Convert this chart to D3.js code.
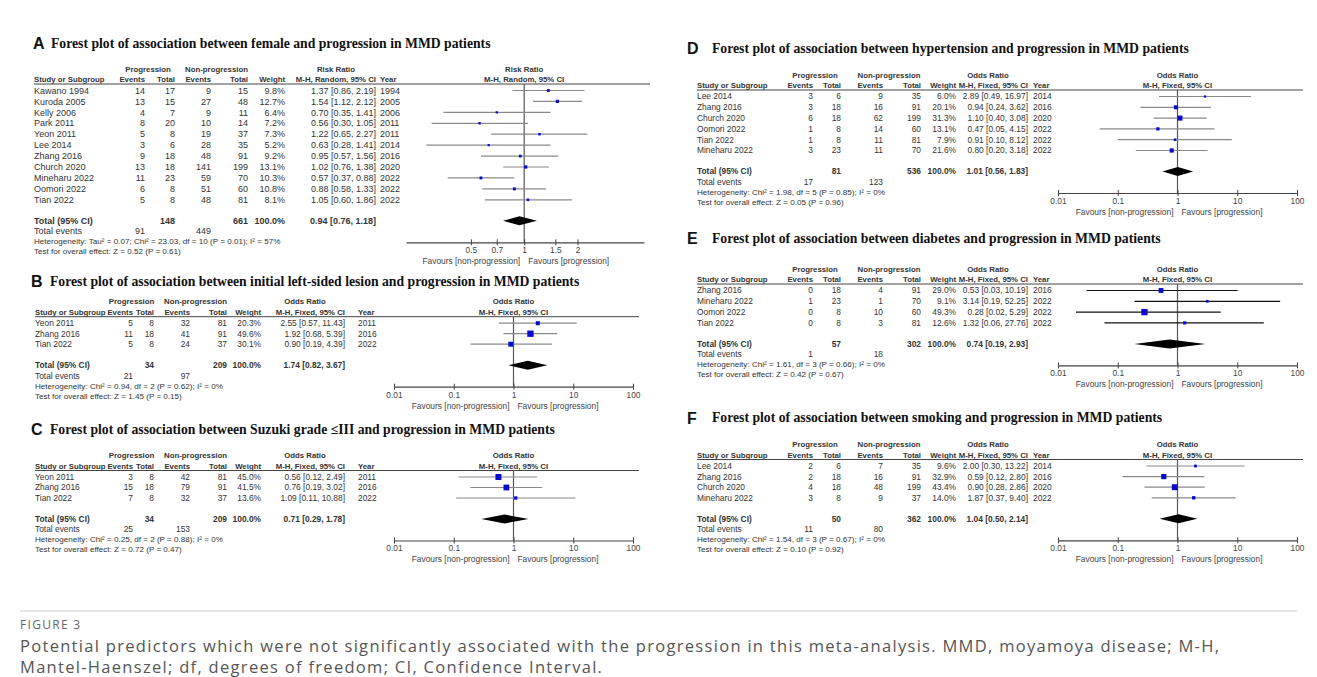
<!DOCTYPE html>
<html>
<head>
<meta charset="utf-8">
<script src="https://cdn.jsdelivr.net/npm/d3@7"></script>
<style>
  body { margin: 0; background: #fff; }
  svg { display: block; }
  text { font-family: Arial, "Liberation Sans", sans-serif; }
</style>
</head>
<body>
<svg id="chart"></svg>
<script>
// rows: study, prog events, prog total, non-prog events, non-prog total, weight %, estimate, lower, upper, year
const femaleRows = [
  ['Kawano 1994', 14, 17, 9, 15, 9.8, 1.37, 0.86, 2.19, 1994],
  ['Kuroda 2005', 13, 15, 27, 48, 12.7, 1.54, 1.12, 2.12, 2005],
  ['Kelly 2006', 4, 7, 9, 11, 6.4, 0.70, 0.35, 1.41, 2006],
  ['Park 2011', 8, 20, 10, 14, 7.2, 0.56, 0.30, 1.05, 2011],
  ['Yeon 2011', 5, 8, 19, 37, 7.3, 1.22, 0.65, 2.27, 2011],
  ['Lee 2014', 3, 6, 28, 35, 5.2, 0.63, 0.28, 1.41, 2014],
  ['Zhang 2016', 9, 18, 48, 91, 9.2, 0.95, 0.57, 1.56, 2016],
  ['Church 2020', 13, 18, 141, 199, 13.1, 1.02, 0.76, 1.38, 2020],
  ['Mineharu 2022', 11, 23, 59, 70, 10.3, 0.57, 0.37, 0.88, 2022],
  ['Oomori 2022', 6, 8, 51, 60, 10.8, 0.88, 0.58, 1.33, 2022],
  ['Tian 2022', 5, 8, 48, 81, 8.1, 1.05, 0.60, 1.86, 2022]
];
const femaleTotal = [148, 661, 0.94, 0.76, 1.18];
const femaleEvents = [91, 449];
const femaleStats = [
  'Heterogeneity: Tau² = 0.07; Chi² = 23.03, df = 10 (P = 0.01); I² = 57%',
  'Test for overall effect: Z = 0.52 (P = 0.61)'
];

const leftRows = [
  ['Yeon 2011', 5, 8, 32, 81, 20.3, 2.55, 0.57, 11.43, 2011],
  ['Zhang 2016', 11, 18, 41, 91, 49.6, 1.92, 0.68, 5.39, 2016],
  ['Tian 2022', 5, 8, 24, 37, 30.1, 0.90, 0.19, 4.39, 2022]
];
const leftTotal = [34, 209, 1.74, 0.82, 3.67];
const leftEvents = [21, 97];
const leftStats = [
  'Heterogeneity: Chi² = 0.94, df = 2 (P = 0.62); I² = 0%',
  'Test for overall effect: Z = 1.45 (P = 0.15)'
];

const suzukiRows = [
  ['Yeon 2011', 3, 8, 42, 81, 45.0, 0.56, 0.12, 2.49, 2011],
  ['Zhang 2016', 15, 18, 79, 91, 41.5, 0.76, 0.19, 3.02, 2016],
  ['Tian 2022', 7, 8, 32, 37, 13.6, 1.09, 0.11, 10.88, 2022]
];
const suzukiTotal = [34, 209, 0.71, 0.29, 1.78];
const suzukiEvents = [25, 153];
const suzukiStats = [
  'Heterogeneity: Chi² = 0.25, df = 2 (P = 0.88); I² = 0%',
  'Test for overall effect: Z = 0.72 (P = 0.47)'
];

const hyperRows = [
  ['Lee 2014', 3, 6, 9, 35, 6.0, 2.89, 0.49, 16.97, 2014],
  ['Zhang 2016', 3, 18, 16, 91, 20.1, 0.94, 0.24, 3.62, 2016],
  ['Church 2020', 6, 18, 62, 199, 31.3, 1.10, 0.40, 3.08, 2020],
  ['Oomori 2022', 1, 8, 14, 60, 13.1, 0.47, 0.05, 4.15, 2022],
  ['Tian 2022', 1, 8, 11, 81, 7.9, 0.91, 0.10, 8.12, 2022],
  ['Mineharu 2022', 3, 23, 11, 70, 21.6, 0.80, 0.20, 3.18, 2022]
];
const hyperTotal = [81, 536, 1.01, 0.56, 1.83];
const hyperEvents = [17, 123];
const hyperStats = [
  'Heterogeneity: Chi² = 1.98, df = 5 (P = 0.85); I² = 0%',
  'Test for overall effect: Z = 0.05 (P = 0.96)'
];

const diabRows = [
  ['Zhang 2016', 0, 18, 4, 91, 29.0, 0.53, 0.03, 10.19, 2016],
  ['Mineharu 2022', 1, 23, 1, 70, 9.1, 3.14, 0.19, 52.25, 2022],
  ['Oomori 2022', 0, 8, 10, 60, 49.3, 0.28, 0.02, 5.29, 2022],
  ['Tian 2022', 0, 8, 3, 81, 12.6, 1.32, 0.06, 27.76, 2022]
];
const diabTotal = [57, 302, 0.74, 0.19, 2.93];
const diabEvents = [1, 18];
const diabStats = [
  'Heterogeneity: Chi² = 1.61, df = 3 (P = 0.66); I² = 0%',
  'Test for overall effect: Z = 0.42 (P = 0.67)'
];

const smokeRows = [
  ['Lee 2014', 2, 6, 7, 35, 9.6, 2.00, 0.30, 13.22, 2014],
  ['Zhang 2016', 2, 18, 16, 91, 32.9, 0.59, 0.12, 2.80, 2016],
  ['Church 2020', 4, 18, 48, 199, 43.4, 0.90, 0.28, 2.86, 2020],
  ['Mineharu 2022', 3, 8, 9, 37, 14.0, 1.87, 0.37, 9.40, 2022]
];
const smokeTotal = [50, 362, 1.04, 0.50, 2.14];
const smokeEvents = [11, 80];
const smokeStats = [
  'Heterogeneity: Chi² = 1.54, df = 3 (P = 0.67); I² = 0%',
  'Test for overall effect: Z = 0.10 (P = 0.92)'
];

const riskTicks = [0.5, 0.7, 1, 1.5, 2];
const logTicks = [0.01, 0.1, 1, 10, 100];

const captionLines = [
  'Potential predictors which were not significantly associated with the progression in this meta-analysis. MMD, moyamoya disease; M-H,',
  'Mantel-Haenszel; df, degrees of freedom; CI, Confidence Interval.'
];

const width = 1317;
const height = 677;
const textColor = '#333';

const svg = d3.select('#chart')
  .attr('width', width)
  .attr('height', height);

svg.append('rect').attr('width', width).attr('height', height).attr('fill', '#fff');

const f2 = d3.format('.2f');
const ciText = (m, lo, hi) => `${f2(m)} [${f2(lo)}, ${f2(hi)}]`;

function txt(g, x, y, s, anchor, opts = {}) {
  return g.append('text')
    .attr('x', x)
    .attr('y', y)
    .attr('dy', '0.35em')
    .attr('text-anchor', anchor || 'start')
    .attr('font-size', opts.size)
    .attr('font-weight', opts.bold ? 'bold' : 'normal')
    .attr('fill', opts.color || textColor)
    .text(s);
}

function drawPanel(cfg) {
  const g = svg.append('g');
  const [nameX, evR, totR, nevR, ntotR, wR, ciR, yrL] = cfg.cols;
  const n = cfg.rows.length;
  const fs = cfg.fs;
  const body = {size: fs};
  const hb = {bold: true, size: 7.8};
  const tb = {bold: true, size: fs};

  const y = d3.scaleLinear()
    .domain([0, 1])
    .range([cfg.lineY + 6.5, cfg.lineY + 6.5 + cfg.rowH]);
  const totalY = y(n - 1) + 21;
  const axisY = totalY + 21.5;

  const x = d3.scaleLog()
    .domain(cfg.domain)
    .range(cfg.plotX);

  // panel letter and title
  g.append('text')
    .attr('x', cfg.letterX)
    .attr('y', cfg.titleY + 6)
    .attr('font-size', 16)
    .attr('font-weight', 'bold')
    .attr('fill', '#111')
    .text(cfg.letter);
  g.append('text')
    .attr('x', cfg.titleX)
    .attr('y', cfg.titleY + 4.5)
    .style('font-family', '"Liberation Serif", "Times New Roman", serif')
    .attr('font-size', 13.7)
    .attr('font-weight', 'bold')
    .attr('fill', '#111')
    .text(cfg.title);

  // table header
  const h1 = cfg.lineY - 15;
  const h2 = cfg.lineY - 4.5;
  txt(g, (evR - 24 + totR) / 2, h1, 'Progression', 'middle', hb);
  txt(g, (nevR - 26 + ntotR) / 2, h1, 'Non-progression', 'middle', hb);
  txt(g, ciR - 40, h1, cfg.measure, 'middle', hb);
  txt(g, nameX, h2, 'Study or Subgroup', 'start', hb);
  txt(g, evR, h2, 'Events', 'end', hb);
  txt(g, totR, h2, 'Total', 'end', hb);
  txt(g, nevR, h2, 'Events', 'end', hb);
  txt(g, ntotR, h2, 'Total', 'end', hb);
  txt(g, wR, h2, 'Weight', 'end', hb);
  txt(g, ciR, h2, cfg.method, 'end', hb);
  txt(g, yrL, h2, 'Year', 'start', hb);
  txt(g, x(1), h1, cfg.measure, 'middle', hb);
  txt(g, x(1), h2, cfg.method, 'middle', hb);

  g.append('line')
    .attr('x1', cfg.lineX[0]).attr('x2', cfg.lineX[1])
    .attr('y1', cfg.lineY).attr('y2', cfg.lineY)
    .attr('stroke', '#444')
    .attr('stroke-width', 1);

  // study rows
  cfg.rows.forEach((r, i) => {
    const ry = y(i);
    txt(g, nameX, ry, r[0], 'start', body);
    txt(g, evR, ry, r[1], 'end', body);
    txt(g, totR, ry, r[2], 'end', body);
    txt(g, nevR, ry, r[3], 'end', body);
    txt(g, ntotR, ry, r[4], 'end', body);
    txt(g, wR, ry, `${r[5].toFixed(1)}%`, 'end', body);
    txt(g, ciR, ry, ciText(r[6], r[7], r[8]), 'end', body);
    txt(g, yrL, ry, r[9], 'start', body);
  });

  // reference line at 1
  g.append('line')
    .attr('x1', x(1)).attr('x2', x(1))
    .attr('y1', cfg.lineY).attr('y2', axisY)
    .attr('stroke', '#555')
    .attr('stroke-width', 1.2);

  const marks = g.append('g');
  marks.selectAll('line')
    .data(cfg.rows)
    .enter()
    .append('line')
    .attr('x1', r => x(r[7]))
    .attr('x2', r => x(r[8]))
    .attr('y1', (r, i) => y(i))
    .attr('y2', (r, i) => y(i))
    .attr('stroke', cfg.ciColor)
    .attr('stroke-width', 1.2);

  marks.selectAll('rect')
    .data(cfg.rows)
    .enter()
    .append('rect')
    .each(function (r, i) {
      const s = Math.max(2.2, 0.9 * Math.sqrt(r[5]));
      d3.select(this)
        .attr('x', x(r[6]) - s / 2)
        .attr('y', y(i) - s / 2)
        .attr('width', s)
        .attr('height', s);
    })
    .attr('fill', '#0a0acc');

  // total row
  const [pt, nt, tm, tlo, thi] = cfg.total;
  txt(g, nameX, totalY, 'Total (95% CI)', 'start', tb);
  txt(g, totR, totalY, pt, 'end', tb);
  txt(g, ntotR, totalY, nt, 'end', tb);
  txt(g, wR, totalY, '100.0%', 'end', tb);
  txt(g, ciR, totalY, ciText(tm, tlo, thi), 'end', tb);

  g.append('path')
    .attr('d', d3.line()([
      [x(tlo), totalY], [x(tm), totalY - 4.5],
      [x(thi), totalY], [x(tm), totalY + 4.5]
    ]) + 'Z')
    .attr('fill', '#000');

  txt(g, nameX, totalY + 10.5, 'Total events', 'start', body);
  txt(g, evR, totalY + 10.5, cfg.events[0], 'end', body);
  txt(g, nevR, totalY + 10.5, cfg.events[1], 'end', body);
  txt(g, nameX, totalY + 20.5, cfg.stats[0], 'start', {size: 8.1});
  txt(g, nameX, totalY + 30.5, cfg.stats[1], 'start', {size: 8.1});

  // axis
  const axis = g.append('g')
    .attr('transform', `translate(0, ${axisY})`)
    .call(d3.axisBottom(x)
      .tickValues(cfg.ticks)
      .tickFormat(d3.format('~g'))
      .tickSize(3)
      .tickSizeOuter(0));
  axis.select('.domain').attr('stroke', '#444').attr('stroke-width', 1.2);
  axis.selectAll('.tick line').attr('y1', -3).attr('y2', 3).attr('stroke', '#444');
  axis.selectAll('.tick text')
    .attr('y', 5)
    .attr('font-size', 8.4)
    .attr('fill', '#444');

  txt(g, x(1) - 4, axisY + 19, 'Favours [non-progression]', 'end', {size: 8.4, color: '#444'});
  txt(g, x(1) + 4, axisY + 19, 'Favours [progression]', 'start', {size: 8.4, color: '#444'});
}

const colsAC = [35, 133, 154, 190, 227, 261, 345, 358];
const colsDF = [697, 813, 841, 883, 921, 956, 1028, 1033];

const panels = [
  {letter: 'A', title: 'Forest plot of association between female and progression in MMD patients',
    rows: femaleRows, total: femaleTotal, events: femaleEvents, stats: femaleStats,
    letterX: 33, titleX: 51, titleY: 43, lineY: 84, rowH: 10.93, fs: 9,
    cols: [34, 145, 175, 211, 248, 285, 376, 380], lineX: [34, 650],
    plotX: [406, 644], domain: [0.215, 4.75], ticks: riskTicks,
    measure: 'Risk Ratio', method: 'M-H, Random, 95% CI', ciColor: '#8a8a8a'},
  {letter: 'B', title: 'Forest plot of association between initial left-sided lesion and progression in MMD patients',
    rows: leftRows, total: leftTotal, events: leftEvents, stats: leftStats,
    letterX: 31, titleX: 50, titleY: 281, lineY: 316.7, rowH: 10.5, fs: 8.4,
    cols: colsAC, lineX: [35, 639], plotX: [394, 633], domain: [0.01, 100], ticks: logTicks,
    measure: 'Odds Ratio', method: 'M-H, Fixed, 95% CI', ciColor: '#8a8a8a'},
  {letter: 'C', title: 'Forest plot of association between Suzuki grade ≤III and progression in MMD patients',
    rows: suzukiRows, total: suzukiTotal, events: suzukiEvents, stats: suzukiStats,
    letterX: 31, titleX: 50, titleY: 429, lineY: 470.5, rowH: 10.5, fs: 8.4,
    cols: colsAC, lineX: [35, 639], plotX: [394, 633], domain: [0.01, 100], ticks: logTicks,
    measure: 'Odds Ratio', method: 'M-H, Fixed, 95% CI', ciColor: '#8a8a8a'},
  {letter: 'D', title: 'Forest plot of association between hypertension and progression in MMD patients',
    rows: hyperRows, total: hyperTotal, events: hyperEvents, stats: hyperStats,
    letterX: 687, titleX: 712, titleY: 48, lineY: 90, rowH: 10.8, fs: 8.4,
    cols: colsDF, lineX: [697, 1303], plotX: [1058, 1297], domain: [0.01, 100], ticks: logTicks,
    measure: 'Odds Ratio', method: 'M-H, Fixed, 95% CI', ciColor: '#8a8a8a'},
  {letter: 'E', title: 'Forest plot of association between diabetes and progression in MMD patients',
    rows: diabRows, total: diabTotal, events: diabEvents, stats: diabStats,
    letterX: 687, titleX: 712, titleY: 238, lineY: 284, rowH: 10.8, fs: 8.4,
    cols: colsDF, lineX: [697, 1303], plotX: [1058, 1297], domain: [0.01, 100], ticks: logTicks,
    measure: 'Odds Ratio', method: 'M-H, Fixed, 95% CI', ciColor: '#111'},
  {letter: 'F', title: 'Forest plot of association between smoking and progression in MMD patients',
    rows: smokeRows, total: smokeTotal, events: smokeEvents, stats: smokeStats,
    letterX: 687, titleX: 712, titleY: 417.5, lineY: 459.5, rowH: 10.6, fs: 8.4,
    cols: colsDF, lineX: [697, 1303], plotX: [1058, 1297], domain: [0.01, 100], ticks: logTicks,
    measure: 'Odds Ratio', method: 'M-H, Fixed, 95% CI', ciColor: '#8a8a8a'}
];

panels.forEach(drawPanel);

// caption
svg.append('line')
  .attr('x1', 20).attr('x2', 1297)
  .attr('y1', 611).attr('y2', 611)
  .attr('stroke', '#ccc');

svg.append('text')
  .attr('x', 20)
  .attr('y', 629)
  .style('font-family', '"Open Sans", "Noto Sans", sans-serif')
  .attr('font-size', 12)
  .attr('letter-spacing', 1.3)
  .attr('fill', '#666')
  .text('FIGURE 3');

svg.selectAll('.caption')
  .data(captionLines)
  .enter()
  .append('text')
  .attr('class', 'caption')
  .attr('x', 20)
  .attr('y', (d, i) => 652 + i * 21)
  .style('font-family', '"Open Sans", "Noto Sans", sans-serif')
  .attr('font-size', 16.5)
  .attr('letter-spacing', 1.3)
  .attr('fill', '#555')
  .text(d => d);
</script>
</body>
</html>
